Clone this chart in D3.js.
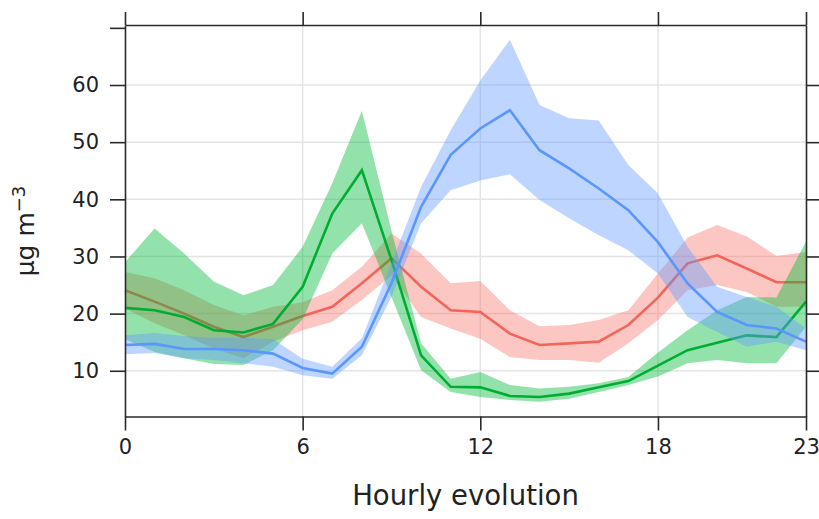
<!DOCTYPE html>
<html>
<head>
<meta charset="utf-8">
<script src="https://cdn.jsdelivr.net/npm/d3@7"></script>
<style>
  body { margin: 0; background: #fff; }
  text { font-family: "DejaVu Sans", sans-serif; fill: #222; }
</style>
</head>
<body>
<div id="chart"></div>
<script>
// hours of the day
var hours = d3.range(0, 24);

// red series (mean, upper, lower)
var redMean  = [24.1, 22.1, 20.0, 17.7, 15.9, 17.7, 19.6, 21.2, 25.3, 29.7, 24.7, 20.6, 20.3, 16.5, 14.5, 14.8, 15.1, 18.0, 22.8, 28.8, 30.2, 27.9, 25.5, 25.5];
var redUpper = [27.3, 26.2, 24.1, 21.5, 19.7, 21.2, 22.0, 24.1, 28.2, 34.0, 30.5, 25.3, 25.7, 20.6, 17.8, 18.0, 18.9, 20.6, 27.0, 33.3, 35.5, 33.5, 30.1, 30.8];
var redLower = [20.9, 18.3, 16.2, 13.9, 12.2, 15.1, 17.1, 18.6, 22.4, 26.7, 19.4, 17.4, 15.6, 12.4, 11.9, 11.9, 11.4, 14.8, 18.9, 24.1, 25.0, 23.8, 21.2, 21.2];

// green series
var greenMean  = [21.0, 20.6, 19.4, 17.1, 16.7, 18.2, 24.7, 37.5, 45.1, 29.4, 12.7, 7.2, 7.1, 5.6, 5.4, 6.0, 7.1, 8.2, 10.9, 13.6, 14.9, 16.2, 15.9, 22.1];
var greenUpper = [29.0, 34.9, 30.5, 25.6, 23.2, 25.0, 31.7, 42.8, 55.5, 34.5, 14.8, 8.6, 9.8, 7.5, 6.9, 7.2, 7.8, 8.9, 13.2, 17.1, 20.6, 22.9, 22.8, 32.6];
var greenLower = [15.5, 13.3, 12.2, 11.2, 11.0, 13.6, 19.0, 30.5, 35.8, 22.9, 10.1, 6.3, 5.4, 4.9, 4.6, 5.1, 6.3, 7.5, 9.0, 11.3, 11.9, 11.3, 11.3, 17.7];

// blue series
var blueMean  = [14.5, 14.7, 13.8, 13.8, 13.6, 13.0, 10.5, 9.5, 14.2, 25.3, 38.7, 47.8, 52.4, 55.6, 48.6, 45.4, 41.9, 38.1, 32.5, 25.3, 20.3, 18.0, 17.4, 15.1];
var blueUpper = [16.2, 16.6, 16.1, 15.8, 15.8, 15.5, 12.1, 10.7, 15.7, 28.8, 42.2, 52.1, 60.8, 67.9, 56.5, 54.2, 53.8, 46.0, 41.0, 31.7, 24.7, 22.9, 21.2, 17.4];
var blueLower = [12.9, 13.1, 12.2, 11.9, 11.3, 10.7, 9.2, 8.6, 12.7, 22.9, 35.8, 41.6, 43.3, 44.4, 39.9, 36.7, 33.7, 31.1, 27.0, 19.4, 16.8, 14.2, 15.1, 13.6];

var xTicks = [0, 6, 12, 18, 23];
var yTicks = [10, 20, 30, 40, 50, 60];

var svgWidth = 819;
var svgHeight = 519;

var margin = {top: 25, right: 13, bottom: 102.5, left: 125};
var width = svgWidth - margin.left - margin.right;
var height = svgHeight - margin.top - margin.bottom;

var svg = d3.select("#chart")
  .append("svg")
  .attr("width", svgWidth)
  .attr("height", svgHeight);

var chartGroup = svg.append("g")
  .attr("transform", `translate(${margin.left}, ${margin.top})`);

var xScale = d3.scaleLinear().domain([0, 23]).range([0, width]);
var yScale = d3.scaleLinear().domain([2, 70.5]).range([height, 0]);

// grid
chartGroup.append("g").selectAll("line.gx")
  .data([6, 12, 18]).enter().append("line")
  .attr("x1", d => xScale(d)).attr("x2", d => xScale(d))
  .attr("y1", 0).attr("y2", height)
  .attr("stroke", "#e4e4e4").attr("stroke-width", 1.5);

chartGroup.append("g").selectAll("line.gy")
  .data(yTicks).enter().append("line")
  .attr("y1", d => yScale(d)).attr("y2", d => yScale(d))
  .attr("x1", 0).attr("x2", width)
  .attr("stroke", "#e4e4e4").attr("stroke-width", 1.5);

// series: band then line, in order red, green, blue
var series = [
  {mean: redMean, upper: redUpper, lower: redLower, color: "#F8766D", line: "#f2655b"},
  {mean: greenMean, upper: greenUpper, lower: greenLower, color: "#00BA38", line: "#00ad32"},
  {mean: blueMean, upper: blueUpper, lower: blueLower, color: "#619CFF", line: "#5a96fb"}
];

var area = d3.area()
  .x(d => xScale(d.h))
  .y0(d => yScale(d.lo))
  .y1(d => yScale(d.hi));

var line = d3.line()
  .x(d => xScale(d.h))
  .y(d => yScale(d.v));

series.forEach(function(s) {
  var pts = hours.map((h, i) => ({h: h, v: s.mean[i], hi: s.upper[i], lo: s.lower[i]}));
  chartGroup.append("path")
    .datum(pts)
    .attr("d", area)
    .attr("fill", s.color)
    .attr("fill-opacity", 0.42);
  chartGroup.append("path")
    .datum(pts)
    .attr("d", line)
    .attr("fill", "none")
    .attr("stroke", s.line)
    .attr("stroke-width", 2.6);
});

// axes
var bottomAxis = d3.axisBottom(xScale).tickValues(xTicks).tickSize(14).tickSizeOuter(0).tickPadding(9);
var topAxis = d3.axisTop(xScale).tickValues(xTicks).tickSize(13).tickSizeOuter(0).tickFormat("");
var leftAxis = d3.axisLeft(yScale).tickValues(yTicks.concat([70])).tickSize(15).tickSizeOuter(0).tickPadding(11)
  .tickFormat(d => d == 70 ? "" : d);
var rightAxis = d3.axisRight(yScale).tickValues(yTicks).tickSize(15).tickSizeOuter(0).tickFormat("");

var gB = chartGroup.append("g").attr("transform", `translate(0, ${height})`).call(bottomAxis);
var gT = chartGroup.append("g").call(topAxis);
var gL = chartGroup.append("g").call(leftAxis);
var gR = chartGroup.append("g").attr("transform", `translate(${width}, 0)`).call(rightAxis);

[gB, gT, gL, gR].forEach(function(g) {
  g.selectAll("path").attr("stroke", "#2a2a2a").attr("stroke-width", 1.6);
  g.selectAll("line").attr("stroke", "#2a2a2a").attr("stroke-width", 1.6);
  g.selectAll("text").attr("font-size", "21px").attr("font-family", "DejaVu Sans").attr("fill", "#222");
});

// axis titles
svg.append("text")
  .attr("x", margin.left + width / 2)
  .attr("y", 505)
  .attr("text-anchor", "middle")
  .attr("font-size", "27.5px")
  .text("Hourly evolution");

var yLab = svg.append("text")
  .attr("transform", "translate(34, 231) rotate(-90)")
  .attr("text-anchor", "middle")
  .attr("font-size", "25px");
yLab.append("tspan").text("µg m");
yLab.append("tspan").attr("dy", "-0.5em").attr("font-size", "18px").text("−3");
</script>
</body>
</html>
